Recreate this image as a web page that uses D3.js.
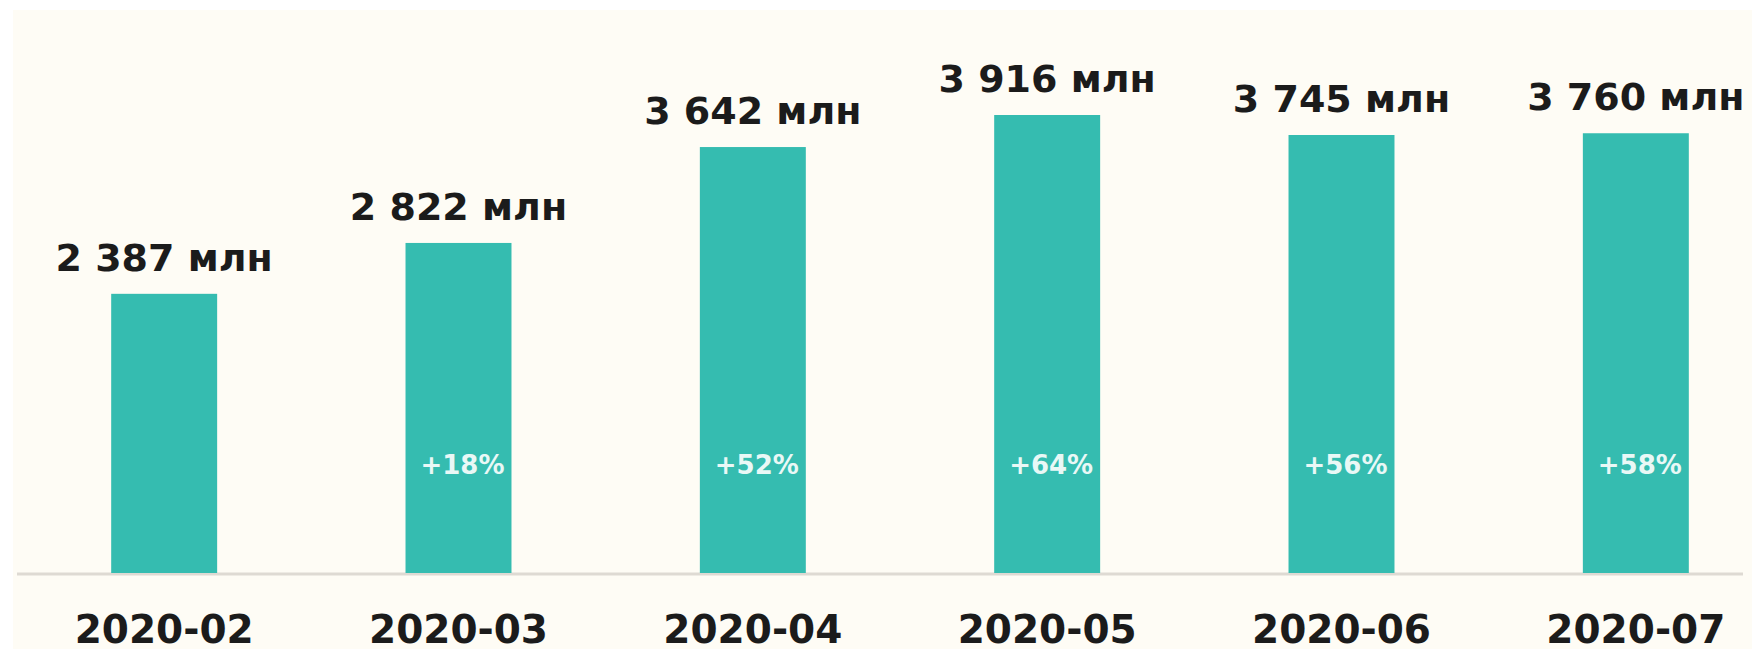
<!DOCTYPE html>
<html>
<head>
<meta charset="utf-8">
<script src="https://cdn.jsdelivr.net/npm/d3@7"></script>
<style>
  body { margin: 0; background: #ffffff; }
  svg { display: block; }
</style>
</head>
<body>
<div id="container"></div>
<script>
var months = ['2020-02', '2020-03', '2020-04', '2020-05', '2020-06', '2020-07'];
var values = [2387, 2822, 3642, 3916, 3745, 3760];
var growth = ['', '+18%', '+52%', '+64%', '+56%', '+58%'];

var width = 1752,
    height = 649,
    baseY = 573;

var svg = d3.select('#container').append('svg')
    .attr('width', width)
    .attr('height', height);

// cream card
svg.append('rect')
    .attr('x', 13).attr('y', 10)
    .attr('width', width - 13).attr('height', height - 10)
    .style('fill', '#fefcf5');

var x = d3.scaleBand()
    .domain(months)
    .range([17, 1783])
    .paddingInner(0.64)
    .paddingOuter(0.32);

var y = d3.scaleLinear()
    .domain([0, 3916])
    .range([baseY, 115]);

var font = '"DejaVu Sans", sans-serif';

// baseline
svg.append('line')
    .attr('x1', 17).attr('x2', 1743)
    .attr('y1', baseY + 1).attr('y2', baseY + 1)
    .style('stroke', '#dedad3')
    .style('stroke-width', 3);

var bars = svg.append('g').selectAll('rect')
    .data(values)
    .enter()
    .append('rect')
      .attr('x', function(d, i) { return x(months[i]); })
      .attr('y', function(d) { return y(d); })
      .attr('width', x.bandwidth())
      .attr('height', function(d) { return baseY - y(d); })
      .style('fill', '#35bcb0');

// value labels over bars
svg.append('g').selectAll('text')
    .data(values)
    .enter()
    .append('text')
      .attr('x', function(d, i) { return x(months[i]) + x.bandwidth() / 2; })
      .attr('y', function(d) { return y(d) - 23; })
      .attr('text-anchor', 'middle')
      .style('font-family', font)
      .style('font-weight', 'bold')
      .style('font-size', '38px')
      .style('fill', '#1b1b1b')
      .text(function(d) { return d3.format(',')(d).replace(',', ' ') + ' млн'; });

// growth inside bars
svg.append('g').selectAll('text')
    .data(growth)
    .enter()
    .append('text')
      .attr('x', function(d, i) { return x(months[i]) + x.bandwidth() / 2 + 4; })
      .attr('y', 474)
      .attr('text-anchor', 'middle')
      .style('font-family', font)
      .style('font-weight', 'bold')
      .style('font-size', '26px')
      .style('fill', '#e9f8f6')
      .text(function(d) { return d; });

// month axis
var axis = svg.append('g')
    .attr('transform', 'translate(0,' + baseY + ')')
    .call(d3.axisBottom(x).tickSize(0).tickPadding(42));
axis.select('.domain').remove();
axis.selectAll('text')
    .style('font-family', font)
    .style('font-weight', 'bold')
    .style('font-size', '39px')
    .style('fill', '#1b1b1b');
</script>
</body>
</html>
